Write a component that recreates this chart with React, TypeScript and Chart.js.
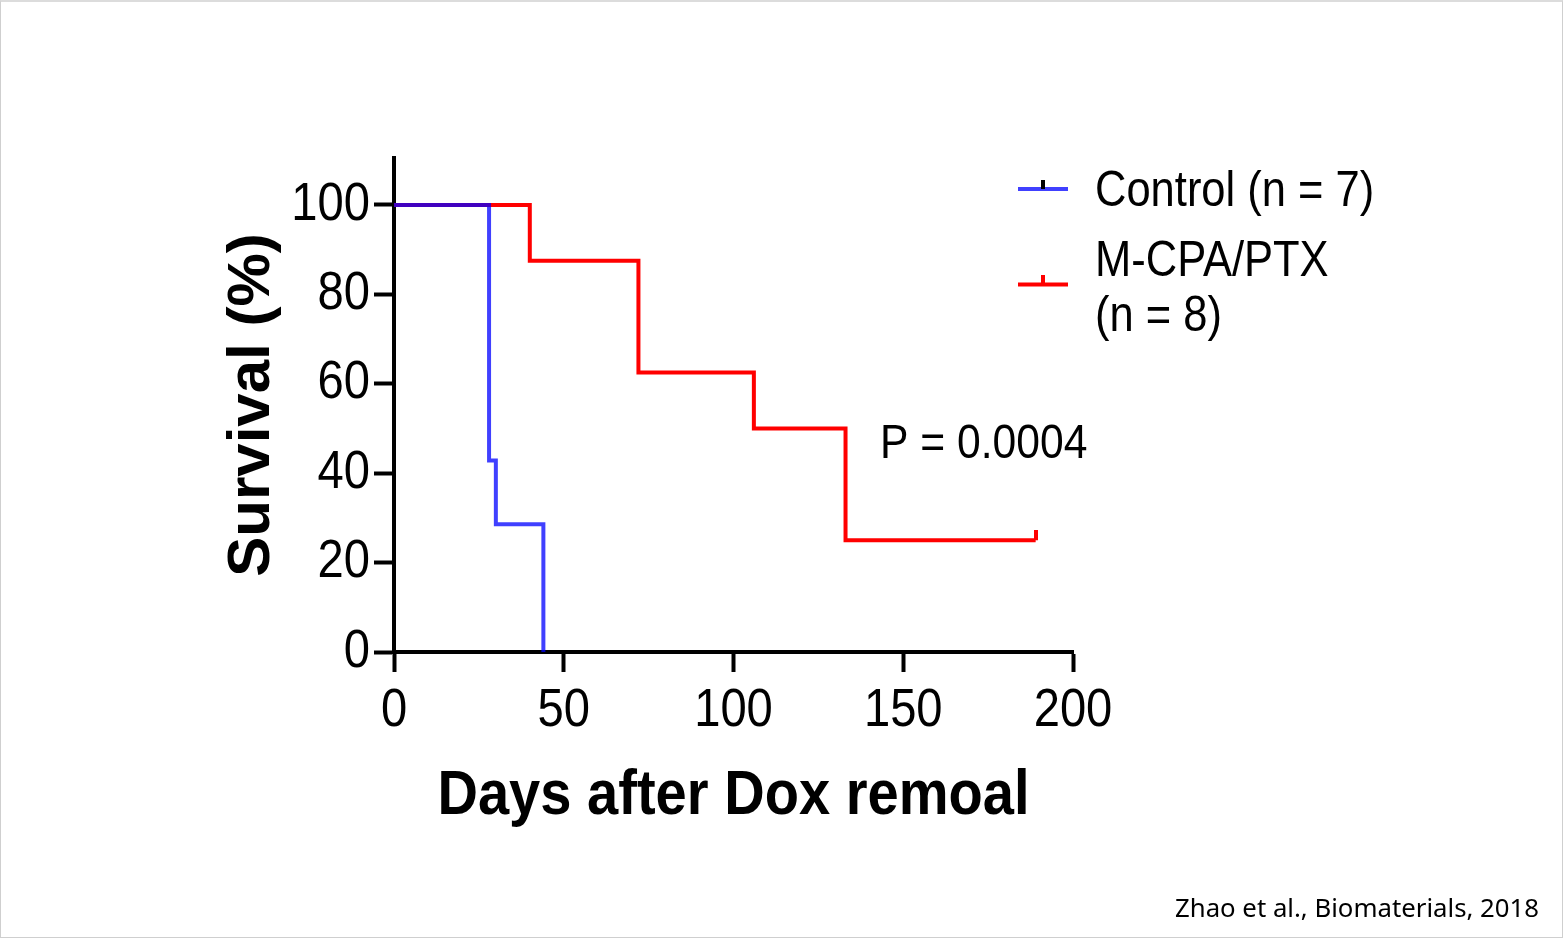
import React, { useEffect, useRef } from 'react';
import { Chart, registerables } from 'chart.js';

Chart.register(...registerables);

// ---------------- data ----------------
const controlDays = [0, 28, 30, 44];
const controlSurvival = [100, 42.86, 28.57, 0];
const treatedDays = [0, 40, 72, 106, 133, 189];
const treatedSurvival = [100, 87.5, 62.5, 50, 25, 25];
const treatedCensorDays = [189];
const treatedCensorSurvival = [25];
const xTickValues = [0, 50, 100, 150, 200];
const yTickValues = [0, 20, 40, 60, 80, 100];
const controlLabel = 'Control (n = 7)';
const treatedLabel = ['M-CPA/PTX', '(n = 8)'];
const pValueText = 'P = 0.0004';
const xTitle = 'Days after Dox remoal';
const yTitle = 'Survival (%)';
const sourceText = 'Zhao et al., Biomaterials, 2018';

// ---------------- styles ----------------
const FONT = "'Liberation Sans', Arial, Helvetica, sans-serif";
const BLUE = 'rgba(0, 0, 255, 0.75)';
const RED = '#ff0000';
let squeeze = 0.89;

function makeCensorTick(color: string) {
  const c = document.createElement('canvas');
  c.width = 4;
  c.height = 20;
  const g = c.getContext('2d')!;
  g.fillStyle = color;
  g.fillRect(0, 0, 4, 10);
  return c;
}

const overlayPlugin = {
  id: 'overlayText',
  afterDraw(chart: any) {
    const c: CanvasRenderingContext2D = chart.ctx;
    c.save();
    // legend symbols
    c.lineCap = 'butt';
    c.lineWidth = 4;
    c.strokeStyle = BLUE;
    c.beginPath();
    c.moveTo(1018, 189);
    c.lineTo(1068, 189);
    c.stroke();
    c.fillStyle = '#000';
    c.fillRect(1041, 180, 4, 9);

    c.strokeStyle = RED;
    c.beginPath();
    c.moveTo(1018, 284.5);
    c.lineTo(1068, 284.5);
    c.stroke();
    c.fillStyle = RED;
    c.fillRect(1041, 275, 4, 9);

    // legend text
    c.fillStyle = '#000';
    c.textAlign = 'left';
    c.textBaseline = 'alphabetic';
    squeeze = 0.87;
    c.font = `50px ${FONT}`;
    c.fillText(controlLabel, 1095, 206);
    c.fillText(treatedLabel[0], 1095, 276);
    c.fillText(treatedLabel[1], 1095, 331);

    // p value
    c.font = `49px ${FONT}`;
    c.fillText(pValueText, 880, 458);

    // source
    squeeze = 1;
    c.font = `26px 'Noto Sans', ${FONT}`;
    c.textAlign = 'right';
    c.fillText(sourceText, 1539, 917, 364);
    squeeze = 0.89;
    c.restore();
  },
};

export default function App() {
  const ref = useRef<HTMLCanvasElement>(null);

  useEffect(() => {
    const canvas = ref.current!;
    const ctx = canvas.getContext('2d')!;
    const orig = CanvasRenderingContext2D.prototype.fillText;
    (ctx as any).fillText = function (text: string, x: number, y: number, maxWidth?: number) {
      const t = this.getTransform();
      if (squeeze !== 1 && Math.abs(t.b) < 1e-6 && Math.abs(t.c) < 1e-6) {
        const w = this.measureText(text).width * squeeze;
        const mw = maxWidth === undefined ? w : Math.min(w, maxWidth);
        return orig.call(this, text, x, y, mw);
      }
      return maxWidth === undefined ? orig.call(this, text, x, y) : orig.call(this, text, x, y, maxWidth);
    };

    const tick = makeCensorTick(RED);

    const chart = new Chart(ctx, {
      type: 'line',
      data: {
        datasets: [
          {
            label: controlLabel,
            data: controlDays.map((d, i) => ({ x: d, y: controlSurvival[i] })),
            borderColor: BLUE,
            borderWidth: 4,
            stepped: true,
            pointRadius: 0,
            fill: false,
            order: 0,
            borderCapStyle: 'butt',
            borderJoinStyle: 'miter',
          },
          {
            label: 'censored',
            data: treatedCensorDays.map((d, i) => ({ x: d, y: treatedCensorSurvival[i] })),
            showLine: false,
            pointStyle: tick as any,
            pointRadius: 5,
            pointHoverRadius: 5,
            order: 1,
          },
          {
            label: treatedLabel.join(' '),
            data: treatedDays.map((d, i) => ({ x: d, y: treatedSurvival[i] })),
            borderColor: RED,
            borderWidth: 4,
            stepped: true,
            pointRadius: 0,
            fill: false,
            order: 2,
            borderCapStyle: 'butt',
            borderJoinStyle: 'miter',
          },
        ],
      },
      options: {
        responsive: false,
        animation: false,
        devicePixelRatio: 1,
        events: [],
        layout: { padding: { top: 158, right: 490, bottom: 0, left: 0 } },
        plugins: {
          legend: { display: false },
          tooltip: { enabled: false },
        },
        scales: {
          x: {
            type: 'linear',
            min: 0,
            max: 200,
            afterBuildTicks: (s: any) => {
              s.ticks = xTickValues.map((v) => ({ value: v }));
            },
            afterFit: (s: any) => {
              s.height = 286;
            },
            ticks: {
              color: '#000',
              font: { family: FONT, size: 53 },
              padding: 8,
              maxRotation: 0,
              autoSkip: false,
            },
            grid: {
              display: true,
              drawOnChartArea: false,
              drawTicks: true,
              tickLength: 20,
              tickWidth: 4,
              tickColor: '#000',
              color: '#000',
            },
            border: { display: true, color: '#000', width: 4 },
            title: {
              display: true,
              text: xTitle,
              color: '#000',
              font: { family: FONT, size: 63, weight: 'bold' },
              padding: { top: 0, bottom: 104 },
            },
          },
          y: {
            type: 'linear',
            min: 0,
            max: 110.5,
            afterBuildTicks: (s: any) => {
              s.ticks = yTickValues.map((v) => ({ value: v }));
            },
            afterFit: (s: any) => {
              s.width = 394;
            },
            ticks: {
              color: '#000',
              font: { family: FONT, size: 53 },
              padding: 4,
              autoSkip: false,
            },
            grid: {
              display: true,
              drawOnChartArea: false,
              drawTicks: true,
              tickLength: 20,
              tickWidth: 4,
              tickColor: '#000',
              color: '#000',
            },
            border: { display: true, color: '#000', width: 4 },
            title: {
              display: true,
              text: yTitle,
              color: '#000',
              font: { family: FONT, size: 60, weight: 'bold' },
              padding: { top: 216, bottom: 0 },
            },
          },
        },
      } as any,
      plugins: [overlayPlugin],
    });

    return () => {
      chart.destroy();
      delete (ctx as any).fillText;
    };
  }, []);

  return (
    <div
      style={{
        position: 'fixed',
        left: 0,
        top: 0,
        width: 1563,
        height: 938,
        background: '#fff',
        overflow: 'hidden',
      }}
    >
      <canvas ref={ref} width={1563} height={938} style={{ display: 'block' }} />
      <div
        style={{
          position: 'absolute',
          inset: 0,
          boxSizing: 'border-box',
          borderTop: '2px solid #dcdcdc',
          borderLeft: '1px solid #cfcfcf',
          borderRight: '1px solid #cfcfcf',
          borderBottom: '1px solid #cfcfcf',
          pointerEvents: 'none',
        }}
      />
    </div>
  );
}
